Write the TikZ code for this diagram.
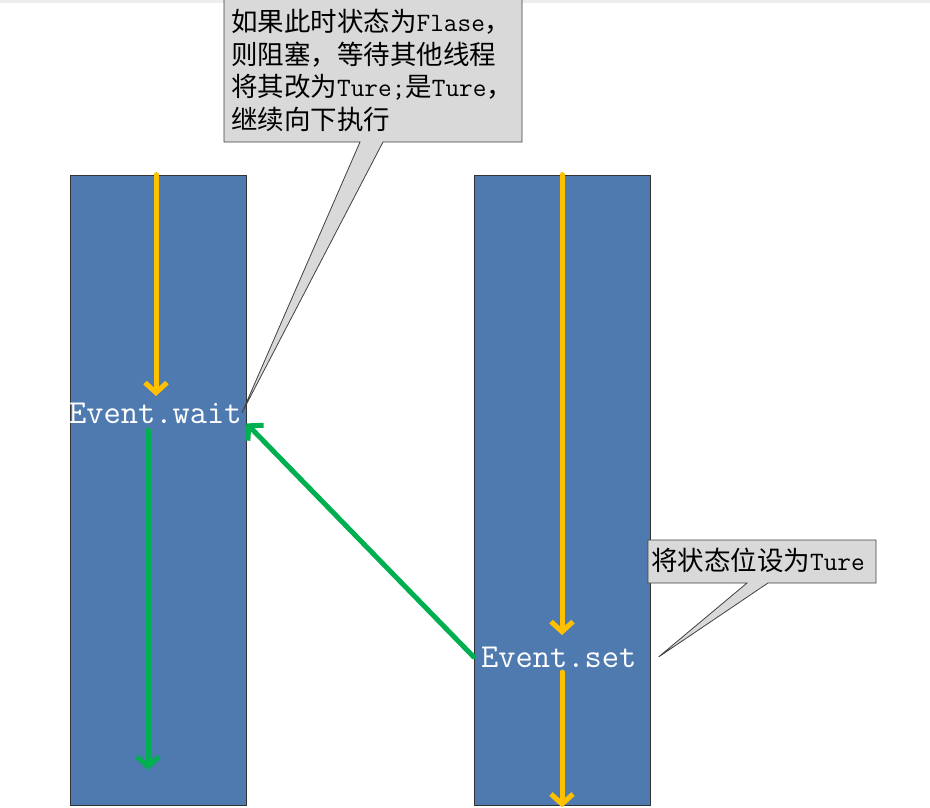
\documentclass[tikz,border=0pt]{standalone}
\usepackage{fontspec}
\newfontfamily\cjk{Noto Sans CJK SC}
\usetikzlibrary{arrows.meta}
\newcommand\lat[1]{{\ttfamily #1}}
\definecolor{laneblue}{RGB}{79,122,176}
\definecolor{flowgold}{RGB}{255,192,0}
\definecolor{flowgreen}{RGB}{0,176,80}
\definecolor{notegray}{RGB}{217,217,217}
\begin{document}
\begin{tikzpicture}[
  x=1pt, y=-1pt,
  lane/.style={draw=black!80, line width=0.8pt, fill=laneblue,
               minimum width=176pt, minimum height=630pt, inner sep=0pt},
  evlabel/.style={text=white, inner sep=0pt, anchor=base west,
                  font=\fontsize{33.5}{36}\ttfamily},
  note/.style={inner sep=0pt, align=left, text=black,
               font=\fontsize{26.5}{32.5}\cjk},
  callout/.style={draw=black!75, line width=0.8pt, fill=notegray, line join=miter},
  flow/.style={line width=5pt, line cap=round, line join=round,
               -{Straight Barb[length=10pt,width=22pt]}},
  goldflow/.style={flow, draw=flowgold},
  greenflow/.style={flow, draw=flowgreen}
]
\useasboundingbox (0,0) rectangle (930,808);
\fill[black!7] (0,0) rectangle (930,3);

% the two threads
\node[lane] (waitlane) at (158,490) {};
\node[lane] (setlane) at (562,490) {};

\node[evlabel] (waitlbl) at (69,423) {Event.wait};
\node[evlabel] (setlbl) at (481,667) {Event.set};

\coordinate (waitstop) at (156,396);
\coordinate (waitgo) at (148,430);
\coordinate (waitend) at (148,770);
\coordinate (setstop) at (562,635);
\coordinate (setgo) at (562,672);

% flow of each thread
\draw[goldflow] (waitlane.north -| waitstop) -- (waitstop);
\draw[greenflow] (waitgo) -- (waitend);
\draw[goldflow] (setlane.north -| setstop) -- (setstop);
\draw[goldflow] (setgo) -- ([yshift=-2pt]setlane.south);
\draw[greenflow] (setlane.west |- setlbl.west) -- (waitlane.east |- waitlbl.south);

% callouts
\coordinate (waittip) at (waitlbl.east);
\coordinate (settip) at ([xshift=22pt]setlbl.east);
\draw[callout] (224,-4) -- (522,-4) -- (522,142) -- (383,142) -- (waittip)
  -- (360,142) -- (224,142) -- cycle;
\draw[callout] (648,540) -- (876,540) -- (876,583) -- (768,583) -- (settip)
  -- (747,583) -- (648,583) -- cycle;

\node[note, anchor=north west] (waitnote) at (231,9)
  {如果此时状态为\lat{Flase}，\\则阻塞，等待其他线程\\将其改为\lat{Ture;}是\lat{Ture}，\\继续向下执行};
\node[note, anchor=base west] (setnote) at (651,570) {将状态位设为\lat{Ture}};
\end{tikzpicture}
\end{document}
